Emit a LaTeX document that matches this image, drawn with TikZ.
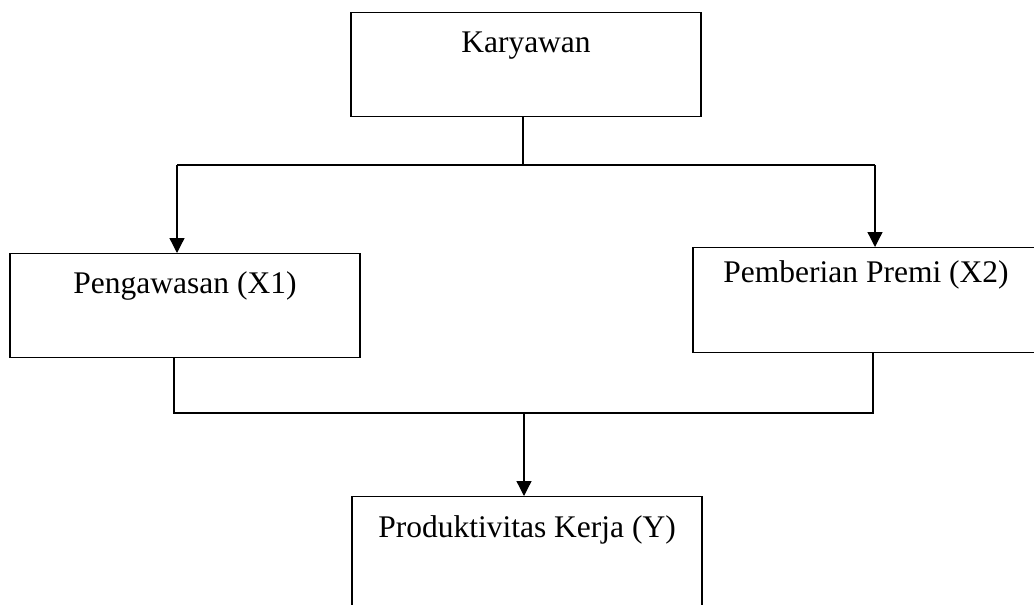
\documentclass[tikz,border=0pt]{standalone}
\usepackage{fontspec}
\setmainfont{Liberation Serif}
\usetikzlibrary{arrows.meta}
\begin{document}
\begin{tikzpicture}[x=1pt,y=-1pt,
  box/.style={draw, line width=1.3pt, rectangle, inner xsep=0pt, inner ysep=0pt,
    anchor=north, font=\fontsize{31.5}{36}\selectfont, align=center},
  ln/.style={line width=1.3pt},
  arr/.style={line width=1.3pt, -{Triangle[width=15pt,length=15pt]}}]
\useasboundingbox (0,0) rectangle (1034,605);
\node[box, minimum width=350pt, text height=40pt, text depth=64pt] (k) at (526,12) {Karyawan};
\node[box, minimum width=350pt, text height=40pt, text depth=64pt] (p1) at (185,253) {Pengawasan (X1)};
\node[box, minimum width=346pt, text height=35pt, text depth=70pt] (p2) at (866,247) {Pemberian Premi (X2)};
\node[box, minimum width=350pt, text height=41pt, text depth=75pt] (y) at (527,496) {Produktivitas Kerja (Y)};
\coordinate (tl) at (177,165);
\coordinate (tr) at (875,165);
\coordinate (bl) at (174,413);
\coordinate (br) at (873,413);
\coordinate (bm) at (524,413);
\draw[ln] (k.south -| 523,0) -- (523,165);
\draw[ln] (tl) -- (tr);
\draw[arr] (tl) -- (tl |- p1.north);
\draw[arr] (tr) -- (tr |- p2.north);
\draw[ln] (bl |- p1.south) -- (bl) -- (br) -- (br |- p2.south);
\draw[arr] (bm) -- (bm |- y.north);
\end{tikzpicture}
\end{document}
